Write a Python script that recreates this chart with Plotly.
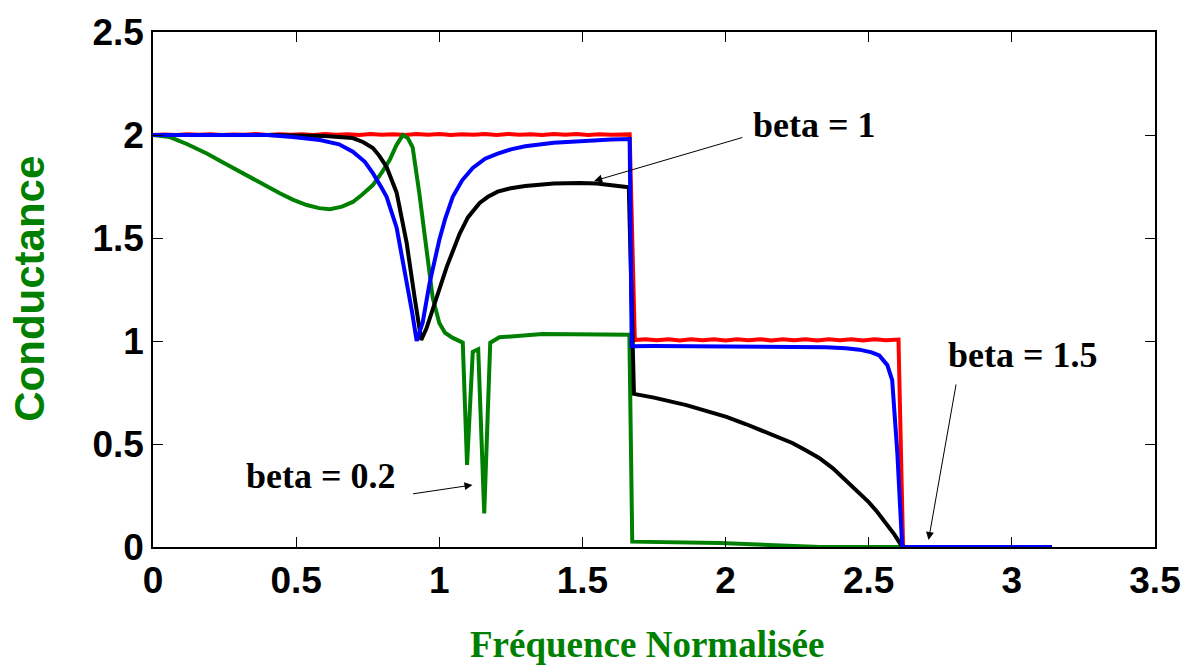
import plotly.graph_objects as go

# ---------------- data ----------------
red_x = [0.00, 0.04, 0.08, 0.12, 0.16, 0.20, 0.24, 0.28, 0.32, 0.36, 0.40, 0.44, 0.48, 0.52,
         0.56, 0.60, 0.64, 0.68, 0.72, 0.76, 0.80, 0.84, 0.88, 0.92, 0.96, 1.00, 1.04, 1.08,
         1.12, 1.16, 1.20, 1.24, 1.28, 1.32, 1.36, 1.40, 1.44, 1.48, 1.52, 1.56, 1.60, 1.64,
         1.665, 1.683, 1.72, 1.76, 1.80, 1.84, 1.88, 1.92, 1.96, 2.00, 2.04, 2.08, 2.12, 2.16,
         2.20, 2.24, 2.28, 2.32, 2.36, 2.40, 2.44, 2.48, 2.52, 2.56, 2.604, 2.62, 3.14]
red_y = [2.000, 2.003, 2.000, 2.004, 2.001, 2.004, 2.000, 2.003, 2.001, 2.005, 2.000, 2.004,
         2.001, 2.004, 2.000, 2.005, 2.001, 2.004, 2.000, 2.005, 2.001, 2.004, 2.000, 2.005,
         2.001, 2.005, 2.000, 2.004, 2.001, 2.005, 2.000, 2.005, 2.001, 2.004, 2.000, 2.005,
         2.001, 2.005, 2.000, 2.004, 2.001, 2.005, 2.003, 1.005, 1.009, 1.004, 1.008, 1.003,
         1.008, 1.004, 1.009, 1.003, 1.008, 1.004, 1.009, 1.003, 1.009, 1.004, 1.008, 1.003,
         1.009, 1.004, 1.009, 1.003, 1.008, 1.004, 1.007, 0.000, 0.000]

green_x = [0.000, 0.059, 0.120, 0.188, 0.240, 0.293, 0.370, 0.443, 0.490, 0.537, 0.580,
           0.618, 0.660, 0.698, 0.730, 0.768, 0.800, 0.827, 0.850, 0.873, 0.890, 0.907,
           0.930, 0.956, 0.977, 1.000, 1.020, 1.047, 1.082, 1.097, 1.117, 1.136, 1.157,
           1.178, 1.210, 1.360, 1.500, 1.664, 1.674, 1.980, 2.330, 2.620]
green_y = [2.000, 1.990, 1.955, 1.910, 1.870, 1.830, 1.770, 1.717, 1.685, 1.660, 1.645,
           1.640, 1.652, 1.675, 1.710, 1.757, 1.820, 1.880, 1.950, 2.000, 1.985, 1.940,
           1.720, 1.440, 1.210, 1.087, 1.040, 1.015, 0.992, 0.398, 0.948, 0.960, 0.163,
           0.992, 1.018, 1.034, 1.032, 1.030, 0.026, 0.019, 0.000, 0.000]

black_x = [0.000, 0.400, 0.600, 0.698, 0.735, 0.768, 0.790, 0.816, 0.851, 0.886, 0.914,
           0.937, 0.955, 0.977, 1.026, 1.071, 1.100, 1.141, 1.170, 1.204, 1.250, 1.300,
           1.400, 1.490, 1.550, 1.654, 1.662, 1.680, 1.750, 1.863, 1.930, 2.003, 2.070,
           2.142, 2.190, 2.233, 2.280, 2.327, 2.375, 2.420, 2.460, 2.500, 2.530, 2.560,
           2.590, 2.613, 2.625, 3.140]
black_y = [2.000, 2.000, 1.995, 1.985, 1.965, 1.937, 1.900, 1.845, 1.720, 1.476, 1.210,
           1.005, 1.060, 1.150, 1.360, 1.520, 1.600, 1.670, 1.700, 1.725, 1.742, 1.752,
           1.765, 1.767, 1.765, 1.748, 1.745, 0.743, 0.725, 0.689, 0.663, 0.632, 0.597,
           0.558, 0.533, 0.505, 0.470, 0.432, 0.382, 0.325, 0.274, 0.218, 0.170, 0.117,
           0.060, 0.010, 0.000, 0.000]

blue_x = [0.000, 0.200, 0.400, 0.488, 0.583, 0.650, 0.698, 0.740, 0.768, 0.800, 0.816,
          0.851, 0.884, 0.905, 0.921, 0.942, 0.966, 1.000, 1.020, 1.047, 1.080, 1.117,
          1.160, 1.204, 1.250, 1.300, 1.400, 1.500, 1.600, 1.665, 1.672, 1.750, 2.000,
          2.200, 2.350, 2.420, 2.467, 2.510, 2.537, 2.565, 2.582, 2.600, 2.617, 3.140]
blue_y = [2.000, 2.000, 2.000, 1.990, 1.976, 1.955, 1.919, 1.870, 1.815, 1.740, 1.700,
          1.550, 1.312, 1.140, 1.000, 1.090, 1.280, 1.490, 1.590, 1.700, 1.780, 1.840,
          1.885, 1.910, 1.930, 1.945, 1.962, 1.972, 1.978, 1.980, 0.975, 0.976, 0.975,
          0.974, 0.970, 0.965, 0.958, 0.945, 0.930, 0.883, 0.810, 0.456, 0.000, 0.000]

x_ticks = [0, 0.5, 1, 1.5, 2, 2.5, 3, 3.5]
x_tick_labels = ["0", "0.5", "1", "1.5", "2", "2.5", "3", "3.5"]
y_ticks = [0, 0.5, 1, 1.5, 2, 2.5]
y_tick_labels = ["0", "0.5", "1", "1.5", "2", "2.5"]

x_title = "Fréquence Normalisée"
y_title = "Conductance"

# ---------------- figure ----------------
LW = 4
fig = go.Figure()
fig.add_trace(go.Scatter(x=red_x, y=red_y, mode="lines", name="beta = 2",
                         line=dict(color="#ff0000", width=LW)))
fig.add_trace(go.Scatter(x=green_x, y=green_y, mode="lines", name="beta = 0.2",
                         line=dict(color="#008000", width=LW)))
fig.add_trace(go.Scatter(x=black_x, y=black_y, mode="lines", name="beta = 1",
                         line=dict(color="#000000", width=LW)))
fig.add_trace(go.Scatter(x=blue_x, y=blue_y, mode="lines", name="beta = 1.5",
                         line=dict(color="#0000ff", width=LW)))

tick_font = dict(family="Liberation Sans, Arial", size=37, color="black", weight="bold")
serif = "Liberation Serif, Times New Roman, serif"

axis_common = dict(showgrid=False, zeroline=False, showline=True, linecolor="black",
                   linewidth=1.5, mirror="ticks", ticks="inside", ticklen=10,
                   tickwidth=1, tickcolor="black", tickfont=tick_font)

fig.update_layout(
    width=1193, height=668,
    margin=dict(l=153, r=36, t=32, b=121),
    paper_bgcolor="white", plot_bgcolor="white",
    showlegend=False,
    xaxis=dict(range=[0, 3.5], tickvals=x_ticks, ticktext=x_tick_labels, **axis_common),
    yaxis=dict(range=[0, 2.5], tickvals=y_ticks, ticktext=y_tick_labels, **axis_common),
)

# axis titles
fig.add_annotation(text="<b>" + y_title + "</b>", xref="paper", yref="paper",
                   x=-0.1235, y=0.502, xanchor="center", yanchor="middle",
                   showarrow=False, textangle=-90,
                   font=dict(family="Liberation Sans, Arial", size=42, color="#008000"))
fig.add_annotation(text="<b>" + x_title + "</b>", xref="paper", yref="paper",
                   x=0.493, y=-0.19, xanchor="center", yanchor="middle", showarrow=False,
                   font=dict(family=serif, size=37, color="#008000"))

# labels with arrows
ann_font = dict(family=serif, size=36, color="black")
labels = [
    ("beta = 1", 2.311, 2.049, 2.064, 1.990, 1.541, 1.777),
    ("beta = 1.5", 3.040, 0.932, 2.806, 0.796, 2.709, 0.034),
    ("beta = 0.2", 0.586, 0.345, 0.903, 0.257, 1.116, 0.301),
]
for txt, tx, ty, ax0, ay0, hx, hy in labels:
    fig.add_annotation(text="<b>" + txt + "</b>", x=tx, y=ty, xref="x", yref="y",
                       xanchor="center", yanchor="middle",
                       showarrow=False, font=ann_font)
    fig.add_annotation(text="", x=hx, y=hy, xref="x", yref="y",
                       ax=ax0, ay=ay0, axref="x", ayref="y",
                       showarrow=True, arrowhead=2, arrowsize=1.6, arrowwidth=1,
                       arrowcolor="black")

fig.write_html("out.html")
